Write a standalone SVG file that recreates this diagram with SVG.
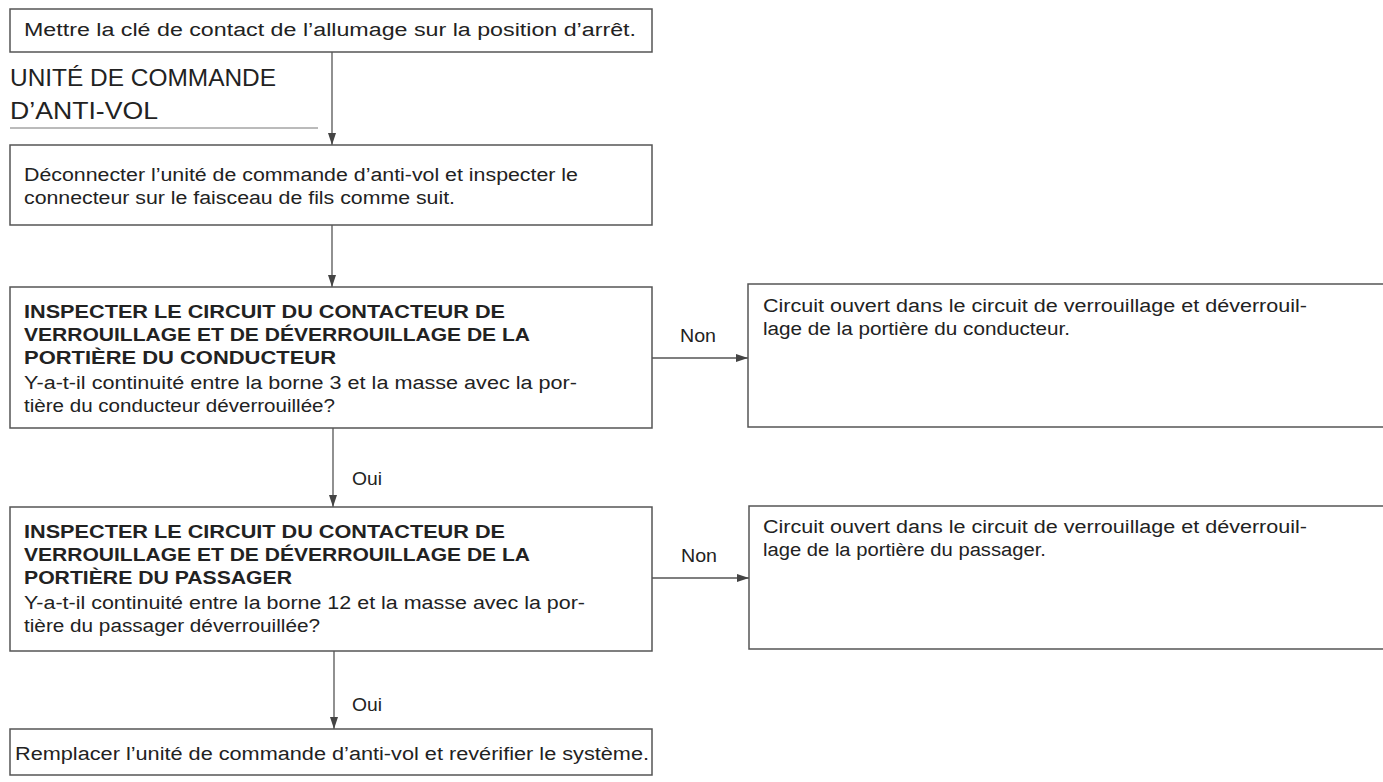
<svg xmlns="http://www.w3.org/2000/svg" width="1383" height="782" viewBox="0 0 1383 782">
<style>
.box{fill:#fff;stroke:#555;stroke-width:1.5}
.t{font-family:"Liberation Sans","Noto Sans",sans-serif;font-size:18px;fill:#222}
.b{font-family:"Liberation Sans","Noto Sans",sans-serif;font-size:18px;font-weight:bold;fill:#222}
.h{font-family:"Liberation Sans","Noto Sans",sans-serif;font-size:24px;fill:#222}
.lbl{font-family:"Liberation Sans","Noto Sans",sans-serif;font-size:19px;fill:#222}
.c{stroke:#555;stroke-width:1.3;fill:none}
</style>
<defs>
<marker id="ah" viewBox="0 0 12 8" refX="12" refY="4" markerWidth="12" markerHeight="8" markerUnits="userSpaceOnUse" orient="auto">
<path d="M0,0 L12,4 L0,8 Z" fill="#444"/>
</marker>
</defs>
<rect width="1383" height="782" fill="#fff"/>
<g id="connectors">
<line class="c" x1="332" y1="52" x2="332" y2="145" marker-end="url(#ah)"/>
<line class="c" x1="332" y1="225" x2="332" y2="287" marker-end="url(#ah)"/>
<line class="c" x1="652" y1="358" x2="748" y2="358" marker-end="url(#ah)"/>
<line class="c" x1="333" y1="428" x2="333" y2="507" marker-end="url(#ah)"/>
<line class="c" x1="652" y1="578" x2="749" y2="578" marker-end="url(#ah)"/>
<line class="c" x1="334" y1="651" x2="334" y2="729" marker-end="url(#ah)"/>
<text class="lbl" x="698" y="342" text-anchor="middle" textLength="36" lengthAdjust="spacingAndGlyphs">Non</text>
<text class="lbl" x="699" y="562" text-anchor="middle" textLength="36" lengthAdjust="spacingAndGlyphs">Non</text>
<text class="lbl" x="352" y="485" textLength="30" lengthAdjust="spacingAndGlyphs">Oui</text>
<text class="lbl" x="352" y="711" textLength="30" lengthAdjust="spacingAndGlyphs">Oui</text>
</g>
<g id="n1">
<rect class="box" x="10" y="9" width="642" height="43"/>
<text class="t" x="24" y="36" textLength="612" lengthAdjust="spacingAndGlyphs">Mettre la clé de contact de l’allumage sur la position d’arrêt.</text>
</g>
<g id="section">
<text class="h" x="10" y="86" textLength="266" lengthAdjust="spacingAndGlyphs">UNITÉ DE COMMANDE</text>
<text class="h" x="10" y="119" textLength="148" lengthAdjust="spacingAndGlyphs">D’ANTI-VOL</text>
<line x1="10" y1="128" x2="318" y2="128" stroke="#777" stroke-width="1"/>
</g>
<g id="n2">
<rect class="box" x="10" y="145" width="642" height="80"/>
<text class="t" x="24" y="181" textLength="554" lengthAdjust="spacingAndGlyphs">Déconnecter l’unité de commande d’anti-vol et inspecter le</text>
<text class="t" x="24" y="204" textLength="431" lengthAdjust="spacingAndGlyphs">connecteur sur le faisceau de fils comme suit.</text>
</g>
<g id="n3">
<rect class="box" x="10" y="287" width="642" height="141"/>
<text class="b" x="24" y="318" textLength="481" lengthAdjust="spacingAndGlyphs">INSPECTER LE CIRCUIT DU CONTACTEUR DE</text>
<text class="b" x="24" y="341" textLength="506" lengthAdjust="spacingAndGlyphs">VERROUILLAGE ET DE DÉVERROUILLAGE DE LA</text>
<text class="b" x="24" y="364" textLength="312" lengthAdjust="spacingAndGlyphs">PORTIÈRE DU CONDUCTEUR</text>
<text class="t" x="24" y="389" textLength="553" lengthAdjust="spacingAndGlyphs">Y-a-t-il continuité entre la borne 3 et la masse avec la por-</text>
<text class="t" x="24" y="412" textLength="311" lengthAdjust="spacingAndGlyphs">tière du conducteur déverrouillée?</text>
</g>
<g id="n3no">
<rect class="box" x="748" y="284" width="645" height="143"/>
<text class="t" x="763" y="312" textLength="544" lengthAdjust="spacingAndGlyphs">Circuit ouvert dans le circuit de verrouillage et déverrouil-</text>
<text class="t" x="763" y="335" textLength="307" lengthAdjust="spacingAndGlyphs">lage de la portière du conducteur.</text>
</g>
<g id="n4">
<rect class="box" x="10" y="507" width="642" height="144"/>
<text class="b" x="24" y="538" textLength="481" lengthAdjust="spacingAndGlyphs">INSPECTER LE CIRCUIT DU CONTACTEUR DE</text>
<text class="b" x="24" y="561" textLength="506" lengthAdjust="spacingAndGlyphs">VERROUILLAGE ET DE DÉVERROUILLAGE DE LA</text>
<text class="b" x="24" y="584" textLength="268" lengthAdjust="spacingAndGlyphs">PORTIÈRE DU PASSAGER</text>
<text class="t" x="24" y="609" textLength="561" lengthAdjust="spacingAndGlyphs">Y-a-t-il continuité entre la borne 12 et la masse avec la por-</text>
<text class="t" x="24" y="632" textLength="296" lengthAdjust="spacingAndGlyphs">tière du passager déverrouillée?</text>
</g>
<g id="n4no">
<rect class="box" x="749" y="506" width="645" height="143"/>
<text class="t" x="763" y="533" textLength="544" lengthAdjust="spacingAndGlyphs">Circuit ouvert dans le circuit de verrouillage et déverrouil-</text>
<text class="t" x="763" y="556" textLength="283" lengthAdjust="spacingAndGlyphs">lage de la portière du passager.</text>
</g>
<g id="n5">
<rect class="box" x="10" y="729" width="642" height="46"/>
<text class="t" x="15" y="760" textLength="634" lengthAdjust="spacingAndGlyphs">Remplacer l’unité de commande d’anti-vol et revérifier le système.</text>
</g>
</svg>
